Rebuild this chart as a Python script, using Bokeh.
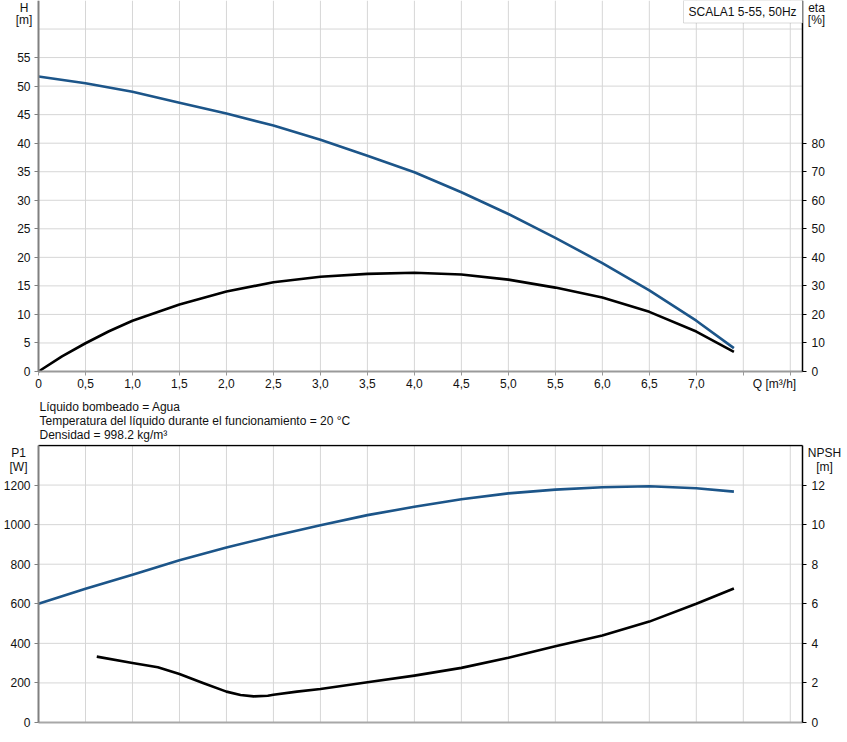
from bokeh.plotting import figure
from bokeh.layouts import column
from bokeh.models import (Range1d, LinearAxis, FixedTicker, Label, BoxAnnotation)
from bokeh.embed import file_html
from bokeh.resources import INLINE

FONT = "Liberation Sans"
BLUE = "#1c5589"
GRID = "#d6d6d6"

# ---------------- data ----------------
q_head = [0, 0.5, 1.0, 1.5, 2.0, 2.5, 3.0, 3.5, 4.0, 4.5, 5.0, 5.5, 6.0, 6.5, 7.0, 7.4]
head = [51.7, 50.5, 49.0, 47.1, 45.2, 43.1, 40.6, 37.8, 34.9, 31.4, 27.6, 23.4, 19.0, 14.2, 8.9, 4.1]

q_eta = [0, 0.25, 0.5, 0.75, 1.0, 1.5, 2.0, 2.5, 3.0, 3.5, 4.0, 4.5, 5.0, 5.5, 6.0, 6.5, 7.0, 7.4]
eta = [0, 5.3, 9.9, 14.1, 17.8, 23.5, 28.0, 31.3, 33.2, 34.2, 34.6, 34.0, 32.2, 29.4, 25.9, 20.9, 14.0, 6.9]

q_p1 = [0, 0.5, 1.0, 1.5, 2.0, 2.5, 3.0, 3.5, 4.0, 4.5, 5.0, 5.5, 6.0, 6.5, 7.0, 7.4]
p1_watt = [600, 676, 747, 820, 884, 943, 997, 1048, 1090, 1128, 1158, 1177, 1189, 1194, 1184, 1167]

q_npsh = [0.62, 1.0, 1.27, 1.5, 1.75, 2.0, 2.15, 2.29, 2.44, 2.5, 2.75, 3.0, 3.5, 4.0,
          4.5, 5.0, 5.5, 6.0, 6.5, 7.0, 7.4]
npsh = [3.33, 3.01, 2.79, 2.45, 2.00, 1.56, 1.39, 1.32, 1.35, 1.40, 1.56, 1.69, 2.03, 2.37,
        2.76, 3.27, 3.85, 4.40, 5.10, 6.00, 6.77]

q_ticks = [0, 0.5, 1.0, 1.5, 2.0, 2.5, 3.0, 3.5, 4.0, 4.5, 5.0, 5.5, 6.0, 6.5, 7.0, 7.5, 8.0]
q_tick_labels = ["0", "0,5", "1,0", "1,5", "2,0", "2,5", "3,0", "3,5", "4,0", "4,5",
                 "5,0", "5,5", "6,0", "6,5", "7,0", "", ""]
h_ticks = [0, 5, 10, 15, 20, 25, 30, 35, 40, 45, 50, 55]
h_grid = [5, 10, 15, 20, 25, 30, 35, 40, 45, 50, 55, 60]
eta_ticks = [0, 10, 20, 30, 40, 50, 60, 70, 80]
p1_ticks = [0, 200, 400, 600, 800, 1000, 1200]
p1_grid = [200, 400, 600, 800, 1000, 1200]
npsh_ticks = [0, 2, 4, 6, 8, 10, 12]

# ---------------- geometry (pixels of the page) ----------------
W = 847
L, R = 38, 45               # frame left / right edge offsets
QMAX = 8.13
SX = (W - L - R) / QMAX      # px per m3/h
HMAX = 65
H1 = 444                     # top figure height
Y0_1 = 371                   # pixel row of H = 0
SY1 = Y0_1 / HMAX
PMAX = 1400
H2 = 296                     # bottom figure height (starts at page row H1)
TOP2 = 445                   # page row of P1 = 1400
Y0_2 = 722                   # page row of P1 = 0
SY2 = (Y0_2 - TOP2) / PMAX


def qx(px):
    return (px - L) / SX


def hy(py):
    return (Y0_1 - py) / SY1


def py2(py):
    return (Y0_2 - py) / SY2


def style_axis(ax, line_color, line_width, tick_color, standoff=4, labels=True):
    ax.axis_line_color = line_color
    ax.axis_line_width = line_width
    ax.major_tick_line_color = tick_color
    ax.major_tick_out = 4
    ax.major_tick_in = 0
    ax.minor_tick_line_color = None
    ax.major_label_text_font = FONT
    ax.major_label_text_font_size = "12px"
    ax.major_label_text_color = "#111111" if labels else None
    ax.major_label_standoff = standoff


def label(p, x, y, text, align="left"):
    p.add_layout(Label(x=x, y=y, text=text, text_font=FONT, text_font_size="12px",
                       text_color="#111111", text_align=align, text_baseline="middle"))


def base_figure(height, y_range):
    p = figure(width=W, height=height, x_range=Range1d(qx(0), qx(W)), y_range=y_range,
               output_backend="svg", toolbar_location=None,
               x_axis_location=None, y_axis_location=None,
               min_border_left=0, min_border_right=0, min_border_top=0,
               min_border_bottom=0, outline_line_color=None)
    p.grid.visible = False
    return p


def grid_lines(p, y_ticks, ymax):
    # vertical lines at the Q ticks, horizontal lines at the y ticks, inside the chart area
    p.segment(x0=q_ticks, y0=[0] * len(q_ticks), x1=q_ticks, y1=[ymax] * len(q_ticks),
              line_color=GRID, line_width=1)
    p.segment(x0=[0] * len(y_ticks), y0=y_ticks, x1=[QMAX] * len(y_ticks), y1=y_ticks,
              line_color=GRID, line_width=1)


# ---------------- top panel ----------------
p1 = base_figure(H1, Range1d(hy(H1), HMAX))
p1.extra_y_ranges = {"eta": Range1d(2 * hy(H1), 2 * HMAX)}
grid_lines(p1, h_grid, HMAX)

q_axis = LinearAxis(fixed_location=0, ticker=FixedTicker(ticks=q_ticks), bounds=(0, QMAX),
                    major_label_overrides=dict(zip(q_ticks, q_tick_labels)))
style_axis(q_axis, "#9a9a9a", 2, "#9a9a9a", 3)
p1.add_layout(q_axis, "below")

h_axis = LinearAxis(fixed_location=0, ticker=FixedTicker(ticks=h_ticks), bounds=(0, HMAX))
style_axis(h_axis, "#808080", 2, "#808080", 4)
p1.add_layout(h_axis, "left")

eta_axis = LinearAxis(y_range_name="eta", fixed_location=QMAX,
                      ticker=FixedTicker(ticks=eta_ticks), bounds=(0, 2 * HMAX))
style_axis(eta_axis, "black", 1.5, "black", 5)
p1.add_layout(eta_axis, "right")

p1.line(q_head, head, line_color=BLUE, line_width=2.6, line_join="round")
p1.line(q_eta, eta, line_color="black", line_width=2.6, line_join="round",
        y_range_name="eta")

p1.add_layout(BoxAnnotation(left=qx(683), right=QMAX, top=HMAX, bottom=hy(22.5),
                            fill_color="white", fill_alpha=1.0,
                            line_color="#888888", line_width=1))
label(p1, qx(688), hy(11), "SCALA1 5-55, 50Hz")
label(p1, qx(23.5), hy(7), "H", "center")
label(p1, qx(23.5), hy(19), "[m]", "center")
label(p1, qx(816), hy(7), "eta", "center")
label(p1, qx(816), hy(19), "[%]", "center")
label(p1, qx(774), hy(383), "Q [m³/h]", "center")
label(p1, qx(39), hy(406), "Líquido bombeado = Agua")
label(p1, qx(39), hy(420), "Temperatura del líquido durante el funcionamiento = 20 °C")
label(p1, qx(39), hy(434), "Densidad = 998.2 kg/m³")

# ---------------- bottom panel ----------------
p2 = base_figure(H2, Range1d(py2(H1 + H2), py2(H1)))
p2.extra_y_ranges = {"npsh": Range1d(py2(H1 + H2) / 100, py2(H1) / 100)}
grid_lines(p2, p1_grid, PMAX)

bottom_axis = LinearAxis(fixed_location=0, ticker=FixedTicker(ticks=[]), bounds=(0, QMAX))
style_axis(bottom_axis, "#a8a8a8", 2, None, 3, labels=False)
p2.add_layout(bottom_axis, "below")

top_axis = LinearAxis(fixed_location=PMAX, ticker=FixedTicker(ticks=[]), bounds=(0, QMAX))
style_axis(top_axis, "black", 1.5, None, 3, labels=False)
p2.add_layout(top_axis, "above")

p_axis = LinearAxis(fixed_location=0, ticker=FixedTicker(ticks=p1_ticks), bounds=(0, PMAX))
style_axis(p_axis, "#808080", 2, "#808080", 4)
p2.add_layout(p_axis, "left")

npsh_axis = LinearAxis(y_range_name="npsh", fixed_location=QMAX,
                       ticker=FixedTicker(ticks=npsh_ticks), bounds=(0, PMAX / 100))
style_axis(npsh_axis, "black", 1.5, "black", 5)
p2.add_layout(npsh_axis, "right")

p2.line(q_p1, p1_watt, line_color=BLUE, line_width=2.6, line_join="round")
p2.line(q_npsh, npsh, line_color="black", line_width=2.6, line_join="round",
        y_range_name="npsh")

label(p2, qx(18), py2(452), "P1", "center")
label(p2, qx(18), py2(466), "[W]", "center")
label(p2, qx(824), py2(452), "NPSH", "center")
label(p2, qx(824), py2(466), "[m]", "center")

layout = column(p1, p2)

with open("out.html", "w") as f:
    f.write(file_html(layout, INLINE))
